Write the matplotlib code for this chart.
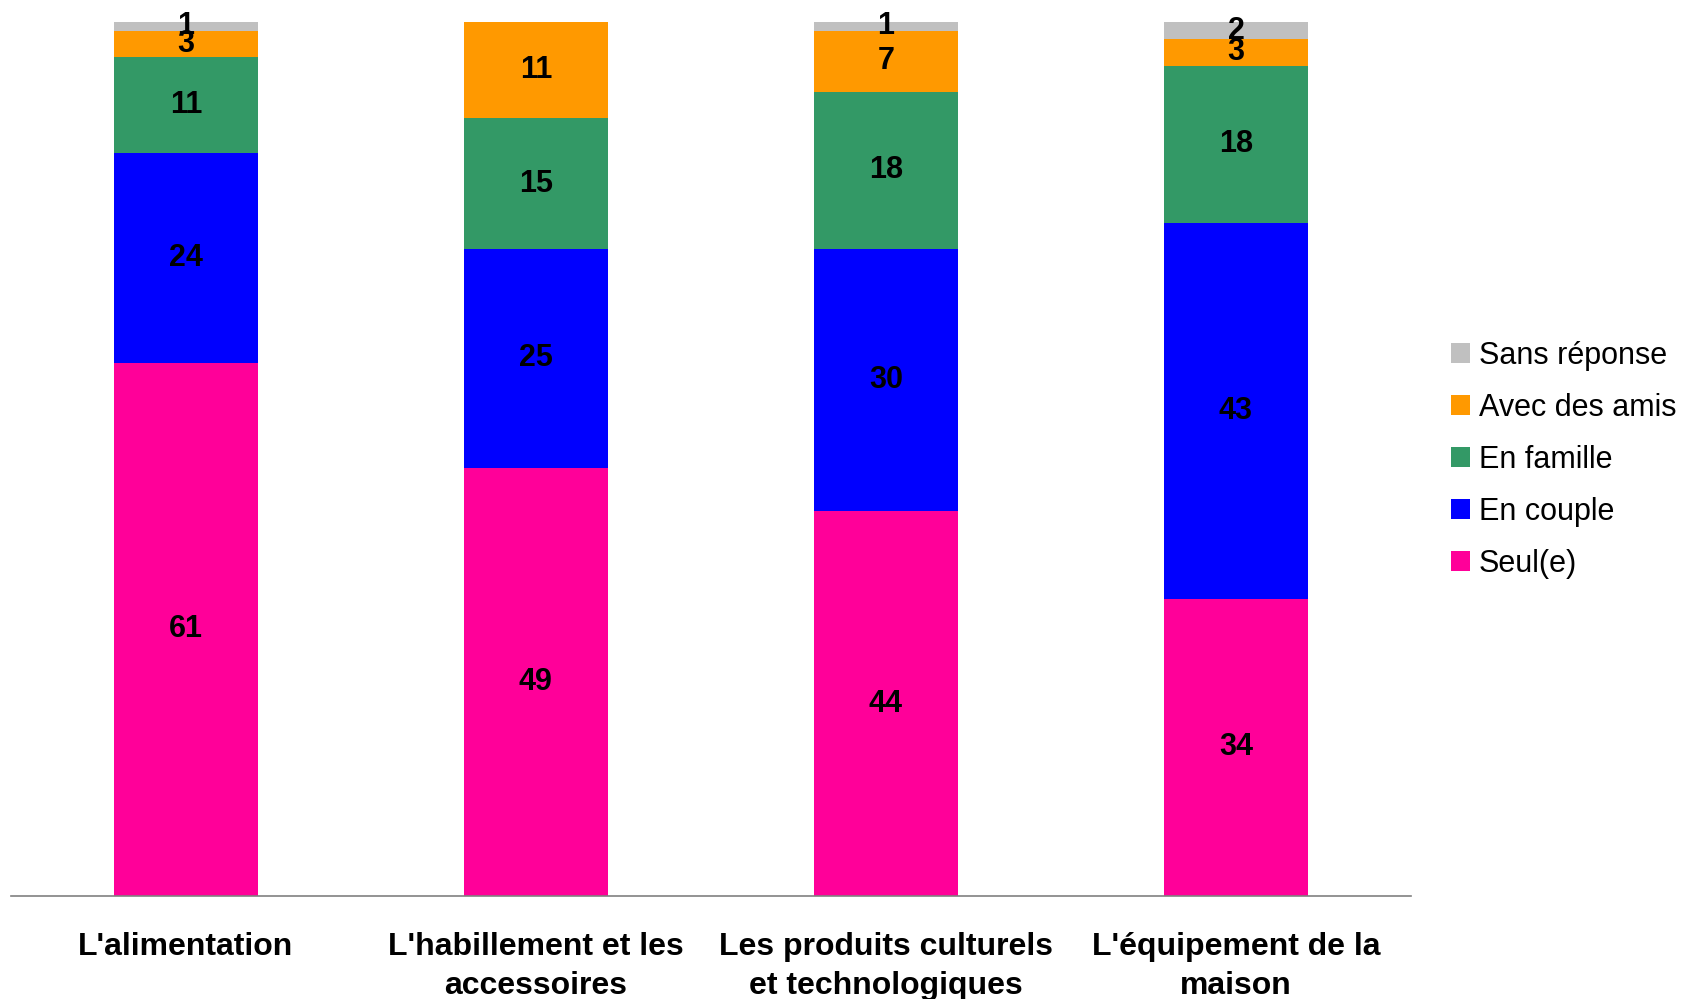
import matplotlib
matplotlib.use("Agg")
import matplotlib.pyplot as plt
import numpy as np

categories = ["L'alimentation", "L'habillement et les\naccessoires",
              "Les produits culturels\net technologiques", "L'équipement de la\nmaison"]
series_names = ["Seul(e)", "En couple", "En famille", "Avec des amis", "Sans réponse"]
seul = [61, 49, 44, 34]
couple = [24, 25, 30, 43]
famille = [11, 15, 18, 18]
amis = [3, 11, 7, 3]
sans_rep = [1, 0, 1, 2]
colors = ["#FF0099", "#0000FF", "#339966", "#FF9900", "#C0C0C0"]

plt.rcParams['font.family'] = ['Liberation Sans', 'DejaVu Sans']

fig = plt.figure(figsize=(16.86, 9.99), dpi=100)
ax = fig.add_axes([0.0064, 0.1031, 0.8305, 0.875])

x = np.arange(len(categories))
bottom = np.zeros(len(categories))
handles = []
for name, vals, c in zip(series_names, [seul, couple, famille, amis, sans_rep], colors):
    vals = np.array(vals, dtype=float)
    b = ax.bar(x, vals, 0.41, bottom=bottom, color=c, label=name, edgecolor='none')
    handles.append(b)
    for xi, v, bt in zip(x, vals, bottom):
        if v > 0:
            ax.text(xi, bt + v / 2, f"{int(v)}", ha='center', va='center',
                    fontsize=22, fontweight='bold', color='black')
    bottom += vals

ax.set_xlim(-0.5, 3.5)
ax.set_ylim(0, 100)
ax.set_yticks([])
ax.set_xticks(x)
ax.set_xticklabels(categories, fontsize=23, fontweight='bold', linespacing=1.4)
ax.tick_params(axis='x', length=0, pad=26)
for s in ['top', 'right', 'left']:
    ax.spines[s].set_visible(False)
ax.spines['bottom'].set_color('#808080')
ax.spines['bottom'].set_linewidth(1.2)

leg = fig.legend(handles[::-1], series_names[::-1], loc='center left',
                 bbox_to_anchor=(0.8535, 0.54), frameon=False, fontsize=22,
                 handlelength=0.62, handleheight=0.62, handletextpad=0.28,
                 labelspacing=0.72, borderaxespad=0)

fig.savefig("out.png", dpi=100)
